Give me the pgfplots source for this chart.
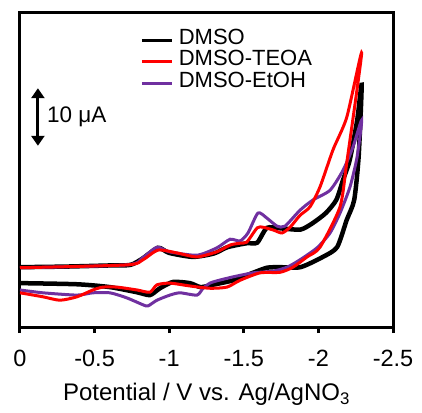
\documentclass[border=0pt]{standalone}
\usepackage{fontspec}
\setmainfont{Liberation Sans}
\usepackage{pgfplots}
\pgfplotsset{compat=1.18}
\usepackage{pgfplotstable}
\usetikzlibrary{arrows.meta}

\definecolor{cvpurple}{HTML}{7030A0}
\definecolor{cvred}{HTML}{FF0000}

% Cyclic voltammograms: current in uA, potential in V vs. Ag/AgNO3
\pgfplotstableread{
E I
0 10.5
-0.30 10.6
-0.60 10.8
-0.74 10.9
-0.82 12.0
-0.925 13.9
-1.00 13.0
-1.16 12.3
-1.30 12.9
-1.39 14.0
-1.52 14.7
-1.59 14.8
-1.655 17.4
-1.75 17.3
-1.88 17.1
-1.96 18.2
-2.05 20.0
-2.12 22.3
-2.165 25.8
-2.21 29.3
-2.26 36.3
-2.29 42.5
-2.27 30.0
-2.24 22.3
-2.19 18.8
-2.125 14.0
-2.03 12.3
-1.88 10.5
-1.74 10.5
-1.655 10.4
-1.56 9.5
-1.43 8.2
-1.29 7.4
-1.21 7.0
-1.139 7.7
-1.025 7.9
-0.938 6.8
-0.871 5.6
-0.784 6.1
-0.603 7.0
-0.382 7.5
0 7.7
}\dmso

\pgfplotstableread{
E I
0 10.4
-0.717 10.9
-0.824 11.8
-0.925 13.5
-1.052 13.0
-1.186 12.3
-1.32 13.2
-1.41 14.4
-1.475 14.7
-1.52 14.9
-1.59 17.4
-1.63 17.5
-1.70 17.0
-1.756 16.5
-1.81 17.5
-1.877 19.6
-1.944 21.1
-2.011 24.6
-2.098 31.1
-2.19 36.8
-2.29 48.1
-2.19 28.8
-2.145 21.1
-2.011 14.0
-1.924 12.3
-1.83 10.5
-1.743 9.6
-1.609 9.5
-1.475 8.2
-1.387 7.0
-1.273 6.8
-1.139 7.2
-1.005 7.7
-0.918 7.4
-0.871 6.1
-0.784 6.5
-0.65 7.0
-0.556 7.0
-0.489 6.5
-0.382 5.3
-0.268 4.7
-0.154 5.3
0 6.0
}\teoa

\pgfplotstableread{
E I
0 10.4
-0.717 10.9
-0.824 12.2
-0.918 14.0
-1.00 13.2
-1.186 12.6
-1.32 13.9
-1.408 15.4
-1.475 15.1
-1.528 16.5
-1.595 20.0
-1.655 19.1
-1.723 17.7
-1.776 17.7
-1.877 20.5
-1.964 22.3
-2.078 24.0
-2.165 27.5
-2.232 31.6
-2.29 36.3
-2.259 29.8
-2.212 24.6
-2.145 20.0
-2.078 16.5
-1.991 13.9
-1.877 11.8
-1.79 10.5
-1.696 9.8
-1.562 9.5
-1.428 8.8
-1.32 8.1
-1.273 7.7
-1.227 6.8
-1.186 5.6
-1.072 6.0
-1.005 5.6
-0.918 4.7
-0.858 3.7
-0.824 3.9
-0.717 5.1
-0.603 6.0
-0.489 6.0
-0.382 5.6
-0.154 6.0
0 6.5
}\etoh

\begin{document}
\begin{tikzpicture}
\begin{axis}[
  name=ax,
  scale only axis,
  width=373pt, height=314pt,
  x dir=reverse,
  xmin=-2.5, xmax=0,
  ymin=0, ymax=55.1,
  xtick={0,-0.5,-1,-1.5,-2,-2.5},
  xticklabels={0,-0.5,-1,-1.5,-2,-2.5},
  ytick=\empty,
  xtick pos=bottom,
  tick align=outside,
  major tick length=6pt,
  axis line style={line width=3pt},
  every tick/.style={line width=3pt, black},
  tick label style={font=\fontsize{23.5}{26}\selectfont},
  xticklabel style={yshift=-14pt},
  xlabel={Potential / V vs. Ag/AgNO\textsubscript{3}},
  xlabel style={font=\fontsize{24}{26}\selectfont, yshift=-9pt},
  legend cell align=left,
  legend style={draw=none, fill=none, at={(rel axis cs:0.322,0.952)}, anchor=north west,
    font=\fontsize{22}{22}\selectfont, row sep=0pt, inner sep=0pt,
    nodes={inner xsep=5.5pt, inner ysep=0pt, text height=16pt, text depth=5.5pt}},
  legend image code/.code={\draw[#1] (0pt,-1pt) -- (30pt,-1pt);},
]
\addlegendimage{black, line width=3pt}
\addlegendentry{DMSO}
\addlegendimage{cvred, line width=3pt}
\addlegendentry{DMSO-TEOA}
\addlegendimage{cvpurple, line width=3pt}
\addlegendentry{DMSO-EtOH}

\addplot[black, line width=4.5pt, smooth, tension=0.4, forget plot] table[x=E, y=I] {\dmso};
\addplot[cvpurple, line width=3pt, smooth, tension=0.4, forget plot] table[x=E, y=I] {\etoh};
\addplot[cvred, line width=3pt, smooth, tension=0.4, forget plot] table[x=E, y=I] {\teoa};

% 10 uA scale bar
\draw[line width=3pt, {Triangle[width=13pt,length=10pt]}-{Triangle[width=13pt,length=10pt]}]
  (axis cs:-0.12,31.8) -- (axis cs:-0.12,41.9);
\node[anchor=west, font=\fontsize{22.5}{22}\selectfont, inner sep=0pt] at (axis cs:-0.18,36.8) {10 μA};
\end{axis}
\path ([shift={(-20pt,-85pt)}]ax.south west) rectangle ([shift={(29pt,13pt)}]ax.north east);
\end{tikzpicture}
\end{document}
